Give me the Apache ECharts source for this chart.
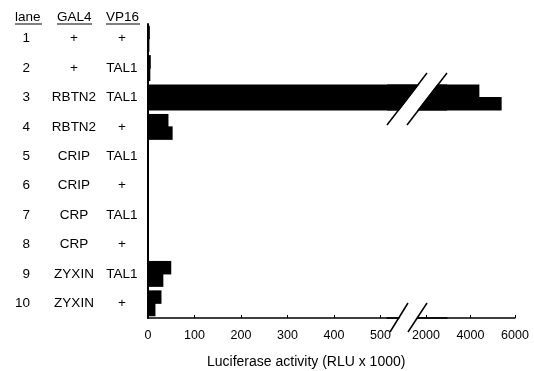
<!DOCTYPE html>
<html>
<head>
<meta charset="utf-8">
<script src="https://cdn.jsdelivr.net/npm/echarts@6/dist/echarts.min.js"></script>
<style>
  html, body { margin: 0; padding: 0; background: #fff; }
  #chart { width: 534px; height: 371px; }
</style>
</head>
<body>
<div id="chart"></div>
<script>
// Luciferase reporter assay: GAL4 fusion x VP16 fusion, duplicate readings per lane
const lanes = ['1', '2', '3', '4', '5', '6', '7', '8', '9', '10'];
const gal4 = ['+', '+', 'RBTN2', 'RBTN2', 'CRIP', 'CRIP', 'CRP', 'CRP', 'ZYXIN', 'ZYXIN'];
const vp16 = ['+', 'TAL1', 'TAL1', '+', 'TAL1', '+', 'TAL1', '+', 'TAL1', '+'];
const firstReading = [4, 6, 4400, 44, 2, 2, 2, 2, 50, 29];
const secondReading = [3, 5, 5400, 53, 2, 1, 1, 2, 33, 16];
const lowTicks = [0, 100, 200, 300, 400, 500];
const highTicks = [2000, 4000, 6000];

const FONT = '"Liberation Sans", Arial, Helvetica, sans-serif';
const INK = '#000';

const chart = echarts.init(document.getElementById('chart'), null, { renderer: 'canvas' });

function laneAxis(gridIndex, extra) {
  return Object.assign({
    type: 'category',
    gridIndex: gridIndex,
    position: 'left',
    data: lanes,
    inverse: true,
    axisLine: { show: false },
    axisTick: { show: false },
    axisLabel: { show: false },
    splitLine: { show: false }
  }, extra || {});
}

function columnLabels(values, margin, align) {
  return {
    show: true,
    margin: margin,
    align: align,
    interval: 0,
    color: INK,
    fontFamily: FONT,
    fontSize: 13.5,
    formatter: function (v, i) { return values[i]; }
  };
}

// the two readings of a lane sit edge to edge, overlapping by a pixel so no seam shows
function readingSeries(name, data, axisIndex) {
  return {
    type: 'bar',
    name: name,
    data: data,
    xAxisIndex: axisIndex,
    yAxisIndex: axisIndex === 0 ? 0 : 4,
    barWidth: 13.5,
    barGap: '-8%',
    clip: true,
    itemStyle: { color: INK },
    silent: true
  };
}

function valueAxis(gridIndex, min, max, ticks) {
  return {
    type: 'value', gridIndex: gridIndex, min: min, max: max,
    axisLine: { show: true, lineStyle: { color: INK, width: 1.5 } },
    splitLine: { show: false },
    axisTick: { show: true, inside: true, length: 3, customValues: ticks, lineStyle: { color: INK } },
    axisLabel: {
      customValues: ticks, margin: 11, color: INK, fontFamily: FONT, fontSize: 12.5,
      formatter: function (v) { return String(v); }
    }
  };
}

const option = {
  animation: false,
  backgroundColor: '#fff',
  grid: [
    { left: 148, top: 24, width: 299, height: 294, outerBoundsMode: 'none' },
    { left: 387, top: 24, width: 128, height: 294, outerBoundsMode: 'none' }
  ],
  xAxis: [
    valueAxis(0, 0, 643, lowTicks),
    valueAxis(1, 250, 6000, highTicks)
  ],
  yAxis: [
    laneAxis(0, { axisLine: { show: true, onZero: false, lineStyle: { color: INK, width: 2 } } }),
    laneAxis(0, { axisLabel: columnLabels(lanes, 118, 'right') }),
    laneAxis(0, { axisLabel: columnLabels(gal4, 74, 'center') }),
    laneAxis(0, { axisLabel: columnLabels(vp16, 26, 'center') }),
    laneAxis(1)
  ],
  series: [
    readingSeries('first', firstReading, 0),
    readingSeries('second', secondReading, 0),
    readingSeries('first', firstReading, 1),
    readingSeries('second', secondReading, 1)
  ],
  graphic: [
    // column headers
    { type: 'text', left: 15, top: 10, z: 100, style: { text: 'lane', fill: INK, font: '13.5px ' + FONT } },
    { type: 'text', left: 57, top: 10, z: 100, style: { text: 'GAL4', fill: INK, font: '13.5px ' + FONT } },
    { type: 'text', left: 106, top: 10, z: 100, style: { text: 'VP16', fill: INK, font: '13.5px ' + FONT } },
    { type: 'line', z: 100, shape: { x1: 15, y1: 24, x2: 42, y2: 24 }, style: { stroke: INK, lineWidth: 1 } },
    { type: 'line', z: 100, shape: { x1: 57, y1: 24, x2: 92, y2: 24 }, style: { stroke: INK, lineWidth: 1 } },
    { type: 'line', z: 100, shape: { x1: 106, y1: 24, x2: 140, y2: 24 }, style: { stroke: INK, lineWidth: 1 } },
    // break across the RBTN2/TAL1 bars
    { type: 'polygon', z: 100, shape: { points: [[388, 125], [428, 73], [446, 73], [406, 125]] }, style: { fill: '#fff' } },
    { type: 'line', z: 101, shape: { x1: 387, y1: 125, x2: 427, y2: 73 }, style: { stroke: INK, lineWidth: 1.5 } },
    { type: 'line', z: 101, shape: { x1: 407, y1: 125, x2: 447, y2: 73 }, style: { stroke: INK, lineWidth: 1.5 } },
    // break on the value axis
    { type: 'polygon', z: 100, shape: { points: [[391, 332], [409, 303], [426, 303], [408, 332]] }, style: { fill: '#fff' } },
    { type: 'line', z: 101, shape: { x1: 390, y1: 332, x2: 408, y2: 303 }, style: { stroke: INK, lineWidth: 1.5 } },
    { type: 'line', z: 101, shape: { x1: 408, y1: 332, x2: 427, y2: 303 }, style: { stroke: INK, lineWidth: 1.5 } },
    // axis title
    { type: 'text', left: 207, top: 355, z: 100, style: { text: 'Luciferase activity (RLU x 1000)', fill: INK, font: '14px ' + FONT } }
  ]
};

chart.setOption(option);
</script>
</body>
</html>
